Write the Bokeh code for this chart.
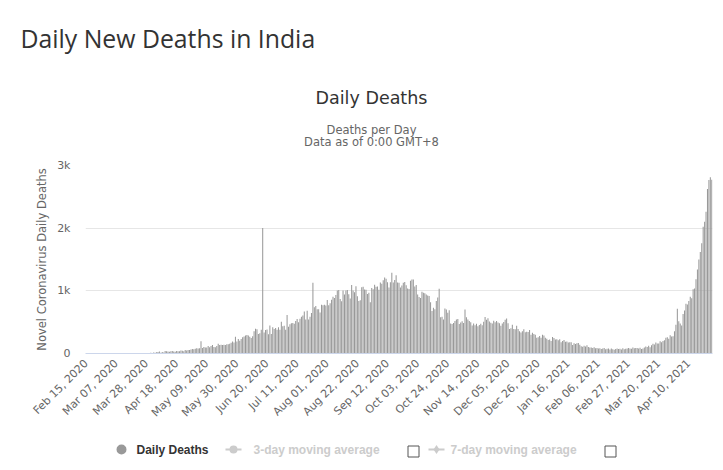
import numpy as np
import pandas as pd
from math import pi
from bokeh.plotting import figure
from bokeh.models import ColumnDataSource, Range1d, FixedTicker
from bokeh.layouts import column
from bokeh.embed import file_html
from bokeh.resources import INLINE
from bokeh.core.properties import value

# ---------------- data (daily new deaths, India) ----------------
START = "2020-02-15"
feb_2020 = [0, 0, 0, 0, 0, 0, 0, 0, 0, 0, 0, 0, 0, 0, 0]
mar_2020 = [0, 0, 0, 0, 0, 0, 0, 0, 0, 0, 0, 1, 1, 0, 0, 0, 1, 0, 1, 1,
            0, 3, 2, 3, 1, 4, 3, 5, 3, 4, 12]
apr_2020 = [3, 17, 12, 21, 22, 32, 13, 25, 17, 40, 35, 31, 29, 34, 38, 32, 27, 38, 35, 36,
            47, 44, 37, 57, 46, 56, 56, 62, 72, 66]
may_2020 = [77, 84, 79, 83, 195, 89, 104, 95, 97, 121, 98, 120, 136, 104, 100, 120, 154, 134, 140, 134,
            140, 137, 148, 146, 154, 170, 190, 175, 269, 193, 230]
jun_2020 = [204, 230, 260, 273, 286, 294, 287, 266, 246, 274, 357, 396, 386, 311, 325, 380, 2003, 336, 375, 381,
            306, 445, 312, 418, 392, 407, 380, 418, 380, 507]
jul_2020 = [434, 442, 379, 613, 425, 467, 482, 487, 475, 519, 551, 500, 553, 587, 606, 671, 543, 681, 543, 587,
            648, 1129, 740, 757, 705, 708, 654, 779, 768, 779, 765]
aug_2020 = [853, 771, 803, 857, 904, 886, 933, 1007, 1013, 871, 834, 1007, 942, 1007, 1013, 944, 876, 1092, 1007, 977,
            1074, 912, 836, 848, 1057, 1066, 1021, 1019, 948, 971, 819]
sep_2020 = [1045, 1026, 1096, 1066, 1069, 1016, 1133, 1115, 1168, 1213, 1192, 1136, 1054, 1136, 1290, 1132, 1174, 1247, 1133, 1130,
            1053, 1085, 1129, 1141, 1089, 1039, 1030, 1160, 1181, 1179]
oct_2020 = [1069, 1095, 940, 903, 884, 986, 971, 963, 940, 926, 918, 816, 680, 730, 706, 837, 895, 1033, 579, 587,
            543, 717, 702, 650, 690, 480, 470, 488, 517, 543, 551]
nov_2020 = [470, 496, 514, 488, 704, 577, 543, 520, 500, 447, 480, 449, 473, 435, 454, 474, 449, 505, 584, 537,
            562, 511, 491, 480, 524, 500, 518, 496, 482, 443]
dec_2020 = [478, 501, 540, 560, 482, 391, 402, 460, 391, 387, 442, 390, 354, 336, 355, 387, 341, 347, 342, 376,
            299, 333, 312, 301, 251, 258, 279, 251, 301, 286, 252]
jan_2021 = [234, 217, 224, 201, 264, 246, 222, 228, 212, 228, 180, 201, 214, 189, 191, 175, 181, 180, 137, 162,
            151, 163, 169, 138, 116, 108, 123, 111, 130, 102, 94]
feb_2021 = [94, 88, 98, 83, 86, 79, 84, 70, 78, 87, 67, 74, 81, 62, 78, 68, 59, 72, 80, 71,
            74, 62, 83, 68, 74, 78, 86, 79]
mar_2021 = [77, 94, 82, 89, 86, 80, 93, 70, 80, 97, 112, 105, 124, 101, 131, 155, 142, 175, 158, 160,
            197, 180, 200, 211, 252, 260, 237, 291, 271, 275, 354]
apr_2021 = [459, 714, 513, 478, 446, 630, 685, 794, 780, 839, 904, 880, 1027, 1038, 1185, 1341, 1501, 1620, 1761, 2023,
            2104, 2263, 2624, 2767, 2812, 2771]

deaths = (feb_2020 + mar_2020 + apr_2020 + may_2020 + jun_2020 + jul_2020 + aug_2020 + sep_2020 +
          oct_2020 + nov_2020 + dec_2020 + jan_2021 + feb_2021 + mar_2021 + apr_2021)

tick_labels = ["Feb 15, 2020", "Mar 07, 2020", "Mar 28, 2020", "Apr 18, 2020", "May 09, 2020",
               "May 30, 2020", "Jun 20, 2020", "Jul 11, 2020", "Aug 01, 2020", "Aug 22, 2020",
               "Sep 12, 2020", "Oct 03, 2020", "Oct 24, 2020", "Nov 14, 2020", "Dec 05, 2020",
               "Dec 26, 2020", "Jan 16, 2021", "Feb 06, 2021", "Feb 27, 2021", "Mar 20, 2021",
               "Apr 10, 2021"]
y_ticks = [0, 1000, 2000, 3000]
y_tick_labels = ["0", "1k", "2k", "3k"]

page_title = "Daily New Deaths in India"
chart_title = "Daily Deaths"
subtitle_lines = ["Deaths per Day", "Data as of 0:00 GMT+8"]
y_axis_title = "Novel Coronavirus Daily Deaths"
legend_items = ["Daily Deaths", "3-day moving average", "7-day moving average"]

dates = pd.date_range(START, periods=len(deaths), freq="D")
src = ColumnDataSource(dict(x=np.arange(len(deaths)), y=deaths, date=dates.strftime("%b %d, %Y")))
tick_pos = [int(np.where(dates == pd.to_datetime(t, format="%b %d, %Y"))[0][0]) for t in tick_labels]

# ---------------- layout constants (page pixels) ----------------
W = 723
FL, FR = 85, 712          # plot-area left / right
HEAD_H = 155              # header strip height
MAIN_H = 277              # chart strip height
LEG_H = 30                # legend strip height
FT, FB = 165, 353         # plot-area top / bottom (page y)
N = len(deaths)
YMAX = 3000
CHART_FONT = "DejaVu Sans"

# ---------------- header strip (frame = whole strip, page-pixel coordinates) ----------------
head = figure(width=W, height=HEAD_H, output_backend="svg", toolbar_location=None, title=None,
              x_range=Range1d(0, W), y_range=Range1d(HEAD_H, 0),
              x_axis_location=None, y_axis_location=None, min_border=0,
              min_border_left=0, min_border_right=0, min_border_top=0, min_border_bottom=0)
try:
    head.frame_align = False
except Exception:
    pass
head.outline_line_color = None
head.grid.visible = False
head.text(x=[20], y=[37], text=[page_title], text_font=value("Open Sans"),
          text_font_size="24.8px", text_color="#333333", text_align="left", text_baseline="alphabetic")
head.text(x=[371], y=[97.5], text=[chart_title], text_font=value(CHART_FONT),
          text_font_size="17.5px", text_color="#333333", text_align="center", text_baseline="alphabetic")
head.text(x=[371, 371], y=[129.5, 141.5], text=subtitle_lines, text_font=value(CHART_FONT),
          text_font_size="11.5px", text_color="#666666", text_align="center", text_baseline="alphabetic")

# ---------------- chart strip ----------------
p = figure(width=W, height=MAIN_H, output_backend="svg", toolbar_location=None, title=None,
           x_range=Range1d(-0.5, N - 0.5), y_range=Range1d(0, YMAX),
           min_border_left=FL, min_border_right=W - FR, min_border_top=FT - HEAD_H,
           min_border_bottom=HEAD_H + MAIN_H - FB)
p.outline_line_color = None
p.background_fill_color = "white"
p.border_fill_color = "white"

p.vbar(x="x", top="y", width=0.72, source=src, fill_color="#999999", line_color=None)

p.yaxis.ticker = FixedTicker(ticks=y_ticks)
p.yaxis.major_label_overrides = dict(zip(y_ticks, y_tick_labels))
p.yaxis.axis_line_color = None
p.yaxis.major_tick_line_color = None
p.yaxis.minor_tick_line_color = None
p.yaxis.major_tick_out = 0
p.yaxis.major_tick_in = 0
p.yaxis.major_label_standoff = 15
p.yaxis.major_label_text_font = CHART_FONT
p.yaxis.major_label_text_font_size = "11px"
p.yaxis.major_label_text_color = "#666666"
p.yaxis.axis_label = y_axis_title
p.yaxis.axis_label_text_font = CHART_FONT
p.yaxis.axis_label_text_font_style = "normal"
p.yaxis.axis_label_text_font_size = "11.5px"
p.yaxis.axis_label_text_color = "#666666"
p.yaxis.axis_label_standoff = 5

p.xaxis.ticker = FixedTicker(ticks=tick_pos)
p.xaxis.major_label_overrides = dict(zip(tick_pos, tick_labels))
p.xaxis.major_label_orientation = pi / 4
p.xaxis.axis_line_color = "#ccd6eb"
p.xaxis.major_tick_line_color = None
p.xaxis.minor_tick_line_color = None
p.xaxis.major_tick_out = 0
p.xaxis.major_tick_in = 0
p.xaxis.major_label_standoff = 8
p.xaxis.major_label_text_font = CHART_FONT
p.xaxis.major_label_text_font_size = "11px"
p.xaxis.major_label_text_color = "#666666"

p.xgrid.grid_line_color = None
p.ygrid.grid_line_color = "#e6e6e6"

# ---------------- legend strip ----------------
leg = figure(width=W, height=LEG_H, output_backend="svg", toolbar_location=None, title=None,
             x_range=Range1d(FL, FR), y_range=Range1d(LEG_H, 0),
             x_axis_location=None, y_axis_location=None,
             min_border_left=FL, min_border_right=W - FR, min_border_top=0, min_border_bottom=0)
leg.outline_line_color = None
leg.grid.visible = False
LY = 17
leg.scatter(x=[121], y=[LY], size=10, marker="circle", fill_color="#999999", line_color=None)
leg.segment(x0=[225, 428], y0=[LY, LY], x1=[241, 444], y1=[LY, LY], line_color="#cccccc", line_width=2)
leg.scatter(x=[233], y=[LY], size=8, marker="circle", fill_color="#cccccc", line_color=None)
leg.scatter(x=[436], y=[LY], size=9, marker="diamond", fill_color="#cccccc", line_color=None)
leg.scatter(x=[413, 610], y=[LY + 2, LY + 2], size=11, marker="square", fill_color=None,
            line_color="#555555", line_width=1)
leg.text(x=[136], y=[LY], text=[legend_items[0]], text_font=value("Liberation Sans"),
         text_font_style="bold", text_font_size="12px", text_color="#333333", text_baseline="middle")
leg.text(x=[253, 450], y=[LY, LY], text=legend_items[1:],
         text_font=value("Liberation Sans"), text_font_style="bold", text_font_size="12px",
         text_color="#cccccc", text_baseline="middle")

layout = column(head, p, leg, spacing=0)
open("out.html", "w").write(file_html(layout, INLINE))
